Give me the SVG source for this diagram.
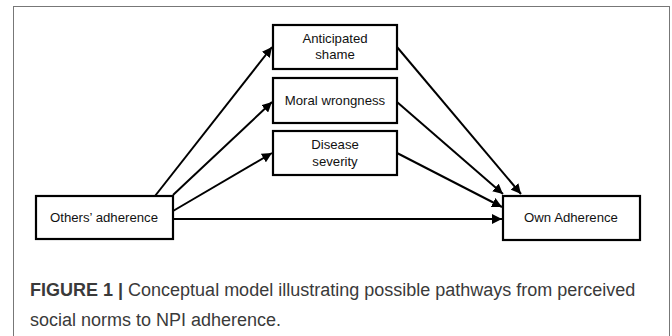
<svg xmlns="http://www.w3.org/2000/svg" width="672" height="336" viewBox="0 0 672 336">
<defs>
<marker id="ah" viewBox="0 0 10 10" refX="10" refY="5" markerWidth="5" markerHeight="5" orient="auto" markerUnits="strokeWidth">
<path d="M0,0 L10,5 L0,10 z" fill="#000"/>
</marker>
<style>
.box{fill:#fff;stroke:#000;stroke-width:2.2}
.lbl{font-family:"Liberation Sans",Arial,sans-serif;font-size:13.2px;fill:#111;text-anchor:middle}
.con{stroke:#000;stroke-width:2;fill:none;marker-end:url(#ah)}
.cap{font-family:"Liberation Sans",Arial,sans-serif;font-size:18px;fill:#3a3a3a}
</style>
</defs>
<rect x="0" y="0" width="672" height="336" fill="#fff"/>
<rect x="13.5" y="6.5" width="656" height="340" fill="none" stroke="#777" stroke-width="1"/>
<g id="connectors">
<line class="con" x1="155" y1="196" x2="272" y2="47"/>
<line class="con" x1="173" y1="195" x2="272" y2="102"/>
<line class="con" x1="173" y1="211" x2="272" y2="153"/>
<line class="con" x1="173" y1="219" x2="502" y2="219"/>
<line class="con" x1="397" y1="47" x2="521" y2="194"/>
<line class="con" x1="397" y1="102" x2="503" y2="194"/>
<line class="con" x1="397" y1="153" x2="502" y2="207"/>
</g>
<g id="anticipated-shame">
<rect class="box" x="273" y="25" width="124" height="44"/>
<text class="lbl" x="335" y="43">Anticipated</text>
<text class="lbl" x="335" y="59">shame</text>
</g>
<g id="moral-wrongness">
<rect class="box" x="273" y="78" width="124" height="45"/>
<text class="lbl" x="335" y="105">Moral wrongness</text>
</g>
<g id="disease-severity">
<rect class="box" x="273" y="131" width="124" height="44"/>
<text class="lbl" x="335" y="149">Disease</text>
<text class="lbl" x="335" y="166">severity</text>
</g>
<g id="others-adherence">
<rect class="box" x="36" y="196" width="137" height="43"/>
<text class="lbl" x="104" y="222">Others’ adherence</text>
</g>
<g id="own-adherence">
<rect class="box" x="503" y="196" width="137" height="44"/>
<text class="lbl" x="571" y="222">Own Adherence</text>
</g>
<text class="cap" x="30" y="296"><tspan font-weight="bold">FIGURE 1 |</tspan> Conceptual model illustrating possible pathways from perceived</text>
<text class="cap" x="30" y="326">social norms to NPI adherence.</text>
</svg>
